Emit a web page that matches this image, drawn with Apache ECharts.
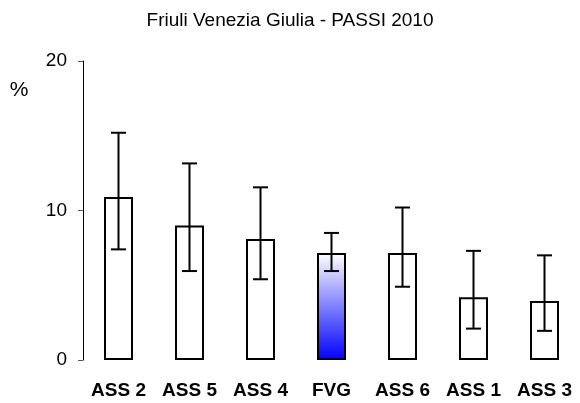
<!DOCTYPE html>
<html>
<head>
<meta charset="utf-8">
<script src="https://cdn.jsdelivr.net/npm/echarts@6/dist/echarts.min.js"></script>
<style>
  html, body { margin: 0; padding: 0; background: #fff; }
  #chart { width: 580px; height: 403px; }
</style>
</head>
<body>
<div id="chart"></div>
<script>
// Prevalence by health district, with 95% confidence intervals
const categories = ['ASS 2', 'ASS 5', 'ASS 4', 'FVG', 'ASS 6', 'ASS 1', 'ASS 3'];
const values     = [10.9, 9.0, 8.1, 7.15, 7.15, 4.2, 3.95];
const ciLow      = [7.4, 5.95, 5.4, 5.95, 4.9, 2.1, 1.95];
const ciHigh     = [15.2, 13.15, 11.55, 8.5, 10.2, 7.3, 7.0];
const yTicks     = [0, 10, 20];
const highlight  = 'FVG';

const FONT = '"Liberation Sans", Arial, sans-serif';

const chart = echarts.init(document.getElementById('chart'), null, { renderer: 'canvas' });

const barData = values.map((v, i) => {
  if (categories[i] === highlight) {
    return {
      value: v,
      itemStyle: {
        color: new echarts.graphic.LinearGradient(0, 0, 0, 1, [
          { offset: 0, color: '#ffffff' },
          { offset: 1, color: '#0000ff' }
        ])
      }
    };
  }
  return v;
});

const errData = categories.map((c, i) => [i, ciLow[i], ciHigh[i]]);

chart.setOption({
  animation: false,
  title: {
    text: 'Friuli Venezia Giulia - PASSI 2010',
    left: 'center',
    top: 6,
    textStyle: { fontFamily: FONT, fontSize: 19, fontWeight: 'normal', color: '#000' }
  },
  grid: { left: 83, right: 0, top: 61, bottom: 43 },
  xAxis: {
    type: 'category',
    data: categories,
    axisLine: { show: false },
    axisTick: { show: false },
    axisLabel: {
      interval: 0,
      hideOverlap: false,
      margin: 21,
      fontFamily: FONT, fontSize: 19, fontWeight: 'bold', color: '#000'
    }
  },
  yAxis: {
    type: 'value',
    min: yTicks[0],
    max: yTicks[yTicks.length - 1],
    interval: 10,
    name: '%',
    nameLocation: 'end',
    nameGap: 0,
    nameTextStyle: { fontFamily: FONT, fontSize: 21, color: '#000', padding: [0, 0, -40, -128] },
    splitLine: { show: false },
    axisLine: { show: true, lineStyle: { color: '#000', width: 1 } },
    axisTick: { show: true, length: 5, lineStyle: { color: '#555', width: 1 } },
    axisLabel: { margin: 16, fontFamily: FONT, fontSize: 19, color: '#000' }
  },
  series: [
    {
      type: 'bar',
      data: barData,
      barWidth: 29,
      itemStyle: { color: '#ffffff', borderColor: '#000', borderWidth: 2 }
    },
    {
      type: 'custom',
      data: errData,
      z: 10,
      renderItem: function (params, api) {
        const x = api.coord([api.value(0), api.value(1)])[0];
        const yLow = api.coord([api.value(0), api.value(1)])[1];
        const yHigh = api.coord([api.value(0), api.value(2)])[1];
        const half = 7.5;
        const style = { stroke: '#000', lineWidth: 2 };
        return {
          type: 'group',
          children: [
            { type: 'line', shape: { x1: x, y1: yHigh, x2: x, y2: yLow }, style: style },
            { type: 'line', shape: { x1: x - half, y1: yHigh, x2: x + half, y2: yHigh }, style: style },
            { type: 'line', shape: { x1: x - half, y1: yLow, x2: x + half, y2: yLow }, style: style }
          ]
        };
      }
    }
  ]
});
</script>
</body>
</html>
